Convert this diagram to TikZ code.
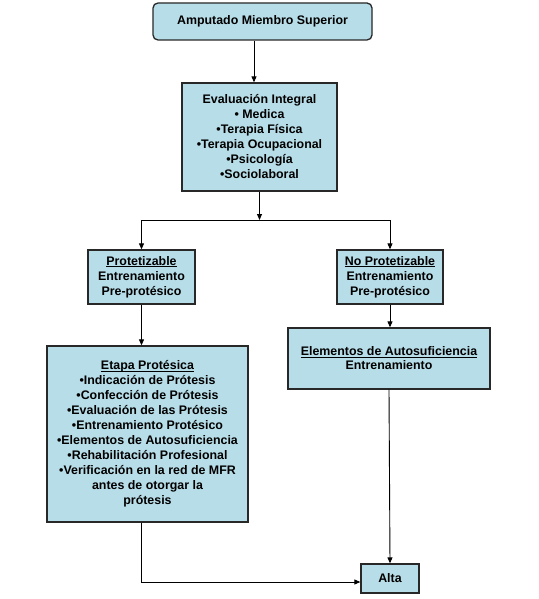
\documentclass[tikz,border=0pt]{standalone}
\usepackage{fontspec}
\setmainfont{Liberation Sans}
\usetikzlibrary{arrows.meta}
\definecolor{boxfill}{RGB}{183,221,232}
\definecolor{boxline}{RGB}{40,40,40}
\newcommand{\ulbox}[1]{\setbox0=\hbox{#1}\rlap{\rule[-2pt]{\wd0}{0.8pt}}\box0}
\begin{document}
\begin{tikzpicture}[x=1pt,y=-1pt,
  box/.style={draw=boxline, line width=1.3pt, fill=boxfill, align=center, inner sep=0pt,
              font=\fontsize{12.4}{15}\selectfont\bfseries},
  arr/.style={-{Triangle[length=6pt,width=5pt]}, line width=0.9pt},
  link/.style={line width=0.9pt}]
\useasboundingbox[fill=white] (0,0) rectangle (538,599);
\node[box, rounded corners=5pt, minimum width=219pt, minimum height=37pt] (top) at (262.5,21.5) {Amputado Miembro Superior};
\node[box, minimum width=155pt, minimum height=108pt] (eval) at (259.5,137) {Evaluación Integral\\• Medica\\•Terapia Física\\•Terapia Ocupacional\\•Psicología\\•Sociolaboral};
\node[box, minimum width=107pt, minimum height=54pt] (prot) at (141.5,277) {\ulbox{Protetizable}\\Entrenamiento\\Pre-protésico};
\node[box, minimum width=106pt, minimum height=54pt] (noprot) at (390,277) {\ulbox{No Protetizable}\\Entrenamiento\\Pre-protésico};
\node[box, minimum width=201pt, minimum height=176pt] (etapa) at (147.5,434) {\ulbox{Etapa Protésica}\\•Indicación de Prótesis\\•Confección de Prótesis\\•Evaluación de las Prótesis\\•Entrenamiento Protésico\\•Elementos de Autosuficiencia\\•Rehabilitación Profesional\\•Verificación en la red de MFR\\antes de otorgar la\\prótesis};
\node[box, minimum width=202pt, minimum height=61pt, font=\fontsize{12.4}{14}\selectfont\bfseries] (elem) at (389,358.5) {\ulbox{Elementos de Autosuficiencia}\\Entrenamiento};
\node[box, minimum width=58pt, minimum height=29pt] (alta) at (390,578.5) {Alta};
\coordinate (split) at (259.5,220);
\draw[arr] ([xshift=-8.5pt]top.south) -- ([xshift=-8.5pt]top.south |- eval.north);
\draw[arr] (eval.south) -- (split);
\draw[link] (prot.north |- split) -- (noprot.north |- split);
\draw[arr] (prot.north |- split) -- (prot.north);
\draw[arr] (noprot.north |- split) -- (noprot.north);
\draw[arr] (prot.south) -- (prot.south |- etapa.north);
\draw[arr] (noprot.south) -- (noprot.south |- elem.north);
\draw[arr] (elem.south) -- (alta.north);
\draw[arr] (prot.south |- etapa.south) |- ([yshift=-3.5pt]alta.west);
\end{tikzpicture}
\end{document}
